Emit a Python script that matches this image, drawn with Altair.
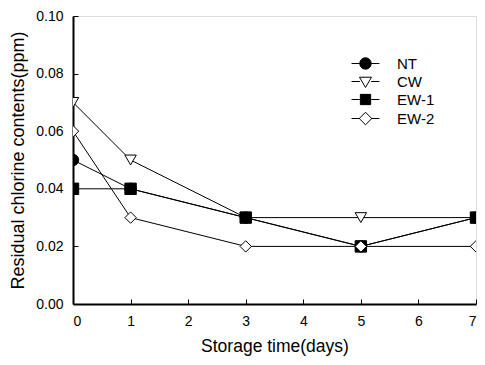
import altair as alt
import pandas as pd

days = [0, 1, 3, 5, 7]
series_names = ["NT", "CW", "EW-1", "EW-2"]
nt = [0.05, 0.04, 0.03, 0.02, 0.03]
cw = [0.07, 0.05, 0.03, 0.03, 0.03]
ew1 = [0.04, 0.04, 0.03, 0.02, 0.03]
ew2 = [0.06, 0.03, 0.02, 0.02, 0.02]
x_ticks = [0, 1, 2, 3, 4, 5, 6, 7]
y_ticks = [0.0, 0.02, 0.04, 0.06, 0.08, 0.10]
shapes = ["circle", "triangle-down", "square", "diamond"]
fills = ["black", "white", "black", "white"]
strokes = ["black", "black", "black", "black"]

# legend symbols: marker with a short line through it (unit coordinates)
seg = "M-2.45,0H-1M1,0H2.45"
legend_paths = [
    "M-1,0A1,1 0 1,0 1,0A1,1 0 1,0 -1,0Z" + seg,
    "M-1.05,-0.75L1.05,-0.75L0,1.05Z" + seg,
    "M-0.9,-0.9H0.9V0.9H-0.9Z" + seg,
    "M0,-1.1L1.1,0L0,1.1L-1.1,0Z" + seg,
]

rows = []
for name, vals in zip(series_names, [nt, cw, ew1, ew2]):
    for d, v in zip(days, vals):
        rows.append({"day": d, "value": v, "series": name})
df = pd.DataFrame(rows)

W, H = 403, 288
FONT = "Liberation Sans"
xscale = alt.Scale(domain=[0, 7], nice=False, zero=False)
yscale = alt.Scale(domain=[0, 0.1], nice=False)

lines = alt.Chart(df).mark_line(strokeWidth=1, color="black").encode(
    x=alt.X("day:Q", scale=xscale,
            axis=alt.Axis(orient="bottom", values=x_ticks, format="d", ticks=False,
                          grid=False, domainColor="black", domainWidth=2,
                          labelFontSize=14, labelColor="black", labelPadding=10,
                          labelFont=FONT, title="Storage time(days)",
                          titleFontSize=17.5, titleFont=FONT, titleFontWeight="normal",
                          titleColor="black", titleY=47, titleBaseline="alphabetic")),
    y=alt.Y("value:Q", scale=yscale,
            axis=alt.Axis(orient="left", values=y_ticks, format=".2f", ticks=False,
                          grid=False, domainColor="black", domainWidth=2,
                          labelFontSize=14, labelColor="black", labelPadding=10,
                          labelFont=FONT, title="Residual chlorine contents(ppm)",
                          titleFontSize=18, titleFont=FONT, titleFontWeight="normal",
                          titleColor="black", titleX=-50, titleBaseline="alphabetic")),
    detail="series:N",
)

points = alt.Chart(df).mark_point(filled=True, stroke="black", strokeWidth=1, opacity=1,
                                  size=130, clip=True).encode(
    x=alt.X("day:Q", scale=xscale,
            axis=alt.Axis(orient="top", offset=-H, values=x_ticks, labels=False,
                          domain=False, ticks=True, tickSize=5, tickColor="black",
                          tickWidth=1, grid=False, title=None)),
    y=alt.Y("value:Q", scale=yscale,
            axis=alt.Axis(orient="right", offset=-W, values=y_ticks, labels=False,
                          domain=False, ticks=True, tickSize=5, tickColor="black",
                          tickWidth=1, grid=False, title=None)),
    shape=alt.Shape("series:N", scale=alt.Scale(domain=series_names, range=shapes),
                    legend=None),
    fill=alt.Fill("series:N", scale=alt.Scale(domain=series_names, range=fills),
                  legend=None),
)

leg = alt.Legend(orient="none", legendX=285, legendY=40, title=None,
                 symbolStrokeColor="black", symbolStrokeWidth=1, symbolSize=130,
                 symbolOpacity=1, labelFontSize=15, labelFont=FONT, labelColor="black",
                 labelOffset=24, rowPadding=2, padding=0)

carrier = alt.Chart(df).mark_point(filled=True, strokeWidth=1,
                                   opacity=0, size=130).encode(
    x=alt.X("day:Q", scale=xscale, axis=None),
    y=alt.Y("value:Q", scale=yscale, axis=None),
    shape=alt.Shape("series:N", scale=alt.Scale(domain=series_names, range=legend_paths),
                    legend=leg),
    fill=alt.Fill("series:N", scale=alt.Scale(domain=series_names, range=fills),
                  legend=leg),
    stroke=alt.Stroke("series:N", scale=alt.Scale(domain=series_names, range=strokes),
                      legend=leg),
)

chart = alt.layer(lines, points, carrier).resolve_axis(
    x="independent", y="independent"
).resolve_scale(
    shape="independent", fill="independent", stroke="independent"
).properties(
    width=W, height=H,
    autosize=alt.AutoSizeParams(type="none"),
    padding={"left": 65, "top": 8, "right": 1, "bottom": 52},
    background="white",
).configure_view(
    stroke="black", strokeWidth=2
).configure(font=FONT)

chart.save("out.html", embed_options={"renderer": "svg", "actions": False})
